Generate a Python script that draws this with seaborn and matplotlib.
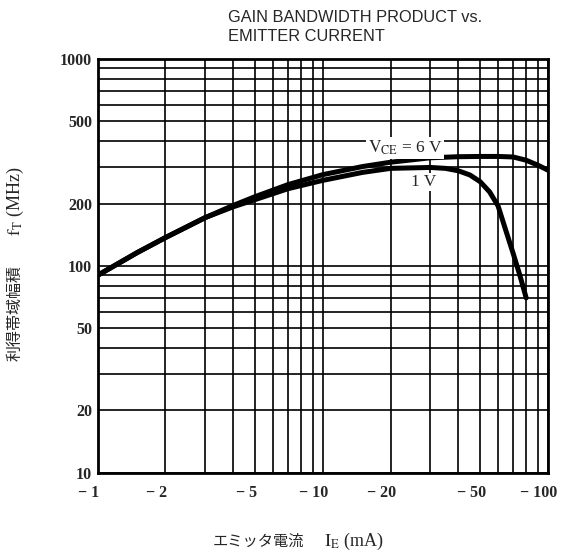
import numpy as np
import pandas as pd
import matplotlib
matplotlib.use("Agg")
import matplotlib.pyplot as plt
import matplotlib.transforms as mtransforms
import seaborn as sns
from matplotlib.ticker import LogLocator, FixedLocator, FixedFormatter, NullFormatter

# --------------------------------------------------------------
# Dados (|IE| em mA, fT em MHz)
# --------------------------------------------------------------
ie_6v = [1, 1.5, 2, 3, 4, 5, 7, 10, 15, 20, 30, 40, 50, 60, 70, 80, 90, 100]
ft_6v = [90, 116, 137, 171, 196, 216, 247, 276, 302, 317, 333, 337, 338, 338, 336, 324, 307, 290]

ie_1v = [1, 1.5, 2, 3, 4, 5, 7, 10, 15, 20, 30, 35, 40, 45, 50, 55, 60, 65, 70, 75, 80]
ft_1v = [90, 116, 137, 171, 193, 209, 236, 259, 283, 296, 299, 296, 288, 275, 255, 228, 195, 148, 115, 90, 70]

x_ticks = [1, 2, 5, 10, 20, 50, 100]
x_labels = ["\u2212 1", "\u2212 2", "\u2212 5", "\u2212 10", "\u2212 20", "\u2212 50", "\u2212 100"]
y_ticks = [10, 20, 50, 100, 200, 500, 1000]
y_labels = ["10", "20", "50", "100", "200", "500", "1000"]

df = pd.concat([
    pd.DataFrame({"ie": ie_6v, "ft": ft_6v, "vce": "6 V"}),
    pd.DataFrame({"ie": ie_1v, "ft": ft_1v, "vce": "1 V"}),
])

# --------------------------------------------------------------
# Estilo
# --------------------------------------------------------------
sns.set_style("white")
plt.rcParams["font.family"] = ["Liberation Serif", "DejaVu Serif"]
plt.rcParams["mathtext.fontset"] = "stix"

fig = plt.figure(figsize=(5.63, 5.57), dpi=100)
ax = fig.add_axes([97.7 / 563, 1 - 472.7 / 557, (548 - 97.7) / 563, (472.7 - 59) / 557])

for v, sub in df.groupby("vce", sort=False):
    sns.lineplot(data=sub, x="ie", y="ft", ax=ax, color="black", lw=3.6,
                 estimator=None, sort=False, legend=False, zorder=3,
                 solid_joinstyle="round", solid_capstyle="round")

ax.set_xscale("log")
ax.set_yscale("log")
ax.set_xlim(1, 100)
ax.set_ylim(10, 1000)

ax.xaxis.set_major_locator(FixedLocator(x_ticks))
ax.xaxis.set_major_formatter(FixedFormatter(x_labels))
ax.yaxis.set_major_locator(FixedLocator(y_ticks))
ax.yaxis.set_major_formatter(FixedFormatter(y_labels))
ax.xaxis.set_minor_locator(LogLocator(base=10, subs=np.arange(1, 10)))
ax.yaxis.set_minor_locator(LogLocator(base=10, subs=np.arange(1, 10)))
ax.xaxis.set_minor_formatter(NullFormatter())
ax.yaxis.set_minor_formatter(NullFormatter())

ax.grid(True, which="both", color="black", lw=1.2, zorder=1)
ax.tick_params(which="both", length=0)
ax.tick_params(axis="x", pad=9, labelsize=11.5)
ax.tick_params(axis="y", pad=4, labelsize=11.5)
shift = mtransforms.ScaledTranslation(-0.09, 0, fig.dpi_scale_trans)
for lab in ax.get_xticklabels():
    lab.set_fontweight("bold")
    lab.set_transform(lab.get_transform() + shift)
for lab in ax.get_yticklabels():
    lab.set_fontweight("bold")
for s in ax.spines.values():
    s.set_color("black")
    s.set_linewidth(2)
ax.set_xlabel("")
ax.set_ylabel("")

# rótulos das curvas
ax.text(23.2, 371, r"$\mathrm{V_{CE}}$ = 6 V", fontsize=12.5, ha="center", va="center",
        zorder=4, bbox=dict(facecolor="white", edgecolor="none", pad=1))
ax.text(27.9, 254, "1 V", fontsize=12.5, ha="center", va="center", zorder=4,
        bbox=dict(facecolor="white", edgecolor="none", pad=1))

# título
fig.text(228 / 563, 1 - 17 / 557, "GAIN BANDWIDTH PRODUCT vs.", fontsize=11.8,
         family=["Liberation Sans", "DejaVu Sans"], ha="left", va="center")
fig.text(228 / 563, 1 - 36.5 / 557, "EMITTER CURRENT", fontsize=11.8,
         family=["Liberation Sans", "DejaVu Sans"], ha="left", va="center")

# rótulo eixo x
fig.text(304 / 563, 1 - 541 / 557, "エミッタ電流", fontsize=11,
         family=["Noto Sans CJK JP", "DejaVu Sans"], ha="right", va="center")
fig.text(324 / 563, 1 - 541 / 557, r"$\mathrm{I_E}$ (mA)", fontsize=13,
         ha="left", va="center")

# rótulo eixo y
fig.text(15 / 563, 1 - 265 / 557, "利得帯域幅積", fontsize=11.5, rotation=90,
         family=["Noto Sans CJK JP", "DejaVu Sans"], ha="center", va="top")
fig.text(15 / 563, 1 - 236 / 557, r"$\mathrm{f_T}$ (MHz)", fontsize=13, rotation=90,
         ha="center", va="bottom")

fig.savefig("out.png", dpi=100)
